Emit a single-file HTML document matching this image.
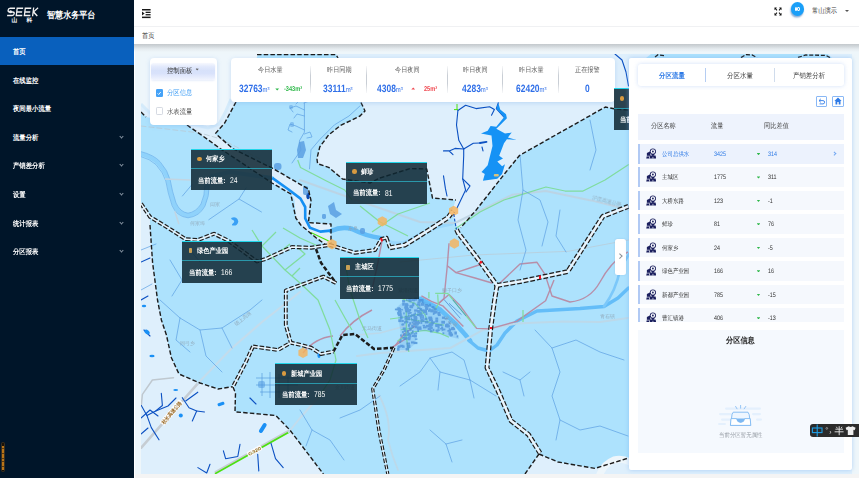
<!DOCTYPE html>
<html lang="zh">
<head>
<meta charset="utf-8">
<title>智慧水务平台</title>
<style>
*{box-sizing:border-box;margin:0;padding:0}
html,body{width:859px;height:478px;overflow:hidden}
body{text-rendering:geometricPrecision;position:relative;background:#f4f4f4;font-family:"Liberation Sans",sans-serif;font-size:6.5px;color:#333;line-height:1}
.abs{position:absolute}
/* sidebar */
#side{z-index:5;position:absolute;left:0;top:0;width:134px;height:478px;background:#001529;color:#fff}
#side .title{position:absolute;left:46.8px;top:11px;font-size:9.18px;font-weight:bold}
#side .mi{position:absolute;left:0;width:134px;height:28.2px;font-size:7.22px;color:#fff;white-space:nowrap;font-weight:bold}
#side .mi span{position:absolute;left:13px;top:11.15px}
#side .mi.on{background:#0960bd}
#side .mi i{position:absolute;left:120px;top:12.2px;width:3px;height:3px;border-right:.8px solid #8593a1;border-bottom:.8px solid #8593a1;transform:rotate(45deg)}
/* header */
#hdr{position:absolute;left:134px;top:0;width:725px;height:27px;background:#fff;border-bottom:1px solid #f0f1f3}
#crumb{position:absolute;left:134px;top:27px;width:725px;height:17px;background:#fff;box-shadow:none}
#crumb span{position:absolute;left:8px;top:5.95px;font-size:7.05px;color:#333;width:14.14px}
/* map */
#map{position:absolute;left:141px;top:54px;width:711px;height:419.5px;overflow:hidden;background:#ade2fd}
#topshade{position:absolute;left:134px;top:44px;width:725px;height:8px;background:linear-gradient(#c3c8cc 0,#d2d8dc 30%,#e5ebef 62%,rgba(238,245,249,0) 100%)}
/* cards */
.card{position:absolute;background:#fff;border-radius:4px;box-shadow:0 1px 4px rgba(120,170,230,.35)}
.tip{position:absolute;background:rgba(14,38,50,.86);border-top:1.9px solid #21d6ea;color:#fff;white-space:nowrap}
.tip .t1{position:absolute;left:15.4px;top:6.5px;font-size:7.07px;font-weight:bold}
.tip .dot{position:absolute;left:6.4px;top:6.9px;width:4.6px;height:4.6px;border-radius:50%;background:#d99a40}
.tip .sq{position:absolute;left:6.6px;top:6.8px;width:3.8px;height:5px;border-radius:.8px;background:#c9a055}
.tip .ln{position:absolute;left:0;right:0;top:18.3px;height:.6px;background:#2a97aa}
.tip .t2{position:absolute;left:6.6px;top:26.9px;font-size:7.27px;width:31.24px;font-weight:bold}
.tip .t3{position:absolute;left:38.6px;top:26.2px;font-size:8.4px;line-height:8.4px;transform:scaleX(.8);transform-origin:0 0}
.j{display:inline-block;text-align:justify;text-align-last:justify;white-space:nowrap;transform:scaleX(.877);transform-origin:0 0}
</style>
</head>
<body>
<div id="side">
  <svg class="abs" style="left:4.8px;top:5.6px" width="36" height="18" viewBox="0 0 36 18">
    <g fill="none" stroke="#f2f2f2" stroke-width="1.45" transform="translate(2.2 0) skewX(-7) scale(.9 1)">
      <path d="M9 2.2H3.6Q1.6 2.2 1.6 4V4.2Q1.6 5.9 3.6 5.9H6.8Q8.8 5.9 8.8 7.6V7.8Q8.8 9.5 6.8 9.5H1.2"/>
      <path d="M18 2.2H11.4V9.5H18M11.4 5.9H17.4"/>
      <path d="M27 2.2H20.4V9.5H27M20.4 5.9H26.4"/>
      <path d="M29.6 1.4V10.2M34.6 1.8L30 5.9L34.8 10"/>
    </g>
    <circle cx="5.6" cy="5.8" r="1.5" fill="#f2f2f2"/>
    <text x="6.4" y="15.9" font-size="5.8" font-weight="bold" fill="#fff" font-family="Liberation Sans, sans-serif">山</text>
    <text x="21.6" y="15.9" font-size="5.8" font-weight="bold" fill="#fff" font-family="Liberation Sans, sans-serif">科</text>
  </svg>
  <div class="title j" style="width:55.2px">智慧水务平台</div>
  <div class="mi on" style="top:36.9px"><span class="j" style="width:14.48px">首页</span></div>
  <div class="mi" style="top:65.5px"><span class="j" style="width:28.96px">在线监控</span></div>
  <div class="mi" style="top:94.1px"><span class="j" style="width:43.44px">夜间最小流量</span></div>
  <div class="mi" style="top:122.7px"><span class="j" style="width:28.96px">流量分析</span><i></i></div>
  <div class="mi" style="top:151.3px"><span class="j" style="width:36.26px">产销差分析</span><i></i></div>
  <div class="mi" style="top:179.9px"><span class="j" style="width:14.48px">设置</span><i></i></div>
  <div class="mi" style="top:208.5px"><span class="j" style="width:28.96px">统计报表</span><i></i></div>
  <div class="mi" style="top:237.1px"><span class="j" style="width:28.96px">分区报表</span><i></i></div>
  <div class="abs" style="left:1px;top:442px;width:4px;height:30px;border-radius:1.5px;background:#1a1208;border:.5px solid #3a3020"></div>
  <div class="abs" style="left:1.8px;top:446px;width:2.4px;height:24px;background:repeating-linear-gradient(#b87418 0 2px,#5a3a10 2px 2.6px)"></div>
</div>

<div id="hdr"></div>
<div id="crumb"><span class="j">首页</span></div>

<div class="abs" style="left:134px;top:44px;width:725px;height:429.5px;background:#eef6fa"></div>
<div class="abs" style="left:134px;top:44px;width:1.2px;height:434px;background:#fff"></div>
<div id="map">
<svg width="718" height="420" viewBox="141 54 718 420" style="position:absolute;left:0;top:0">
<rect x="141" y="54" width="718" height="420" fill="#ade2fd"/>
<path d="M141 54 L258 54 L250 75 L240 95 L235 103.5 L225 123 L215 134 L218 136 L233 149 L272 168 L308 189 L310 200 L308.5 222.5 L331 224 L331 243 L326 245 L316 238 L301 225 L296 218 L294.5 200 L291 194 L272 183 L220.5 149 L208 140 L187 125 L146 117 L141 112Z" fill="#deeffc"/>
<path d="M141 203 L150 220 L150 225 L152.6 263 L157.6 300.5 L161.4 320 L166.4 335 L171.4 357.7 L179 374 L200 383 L218 389 L233 386.6 L235.5 393 L235 411.8 L275.7 415.5 L289.5 429.6 L305.9 451 L323.4 474 L141 474Z" fill="#deeffc"/>
<path d="M336 54 L338 58 L350 80 L361 102.5 L365 111 L360 116 L340.3 125.6 L328.6 135 L319.8 146.9 L316.9 158.6 L317.6 163.7 L328.6 167.3 L342.5 179 L370 183 L380 178 L410 168.6 L426.7 169 L432.5 198 L455.6 200 L452 212 L456 226 L460.5 228 L475.7 210.6 L506 172 L519.5 155.5 L545 141 L605.4 107 L614 108.8 L628 110 L859 110 L859 54Z" fill="#deeffc"/>
<path d="M539 454 L558 462 L595 468.4 L628.5 458 L852 458 L852 474 L525 474Z" fill="#deeffc"/>
<!-- very light top-left -->
<path d="M141 54H258L250 75L240 95L235 103.5L230 100Q226 112 219 124L208 128L150 113L141 104Z" fill="#eef6fb"/>
<path d="M141 104L150 113L208 128L219 124Q226 112 231 99" fill="none" stroke="#cfe8fa" stroke-width="3" opacity=".8"/>
<path d="M651 54H828L832 58H646Z" fill="#ade2fd"/>
<path d="M655 57L658 54.8L664 55.6M741 57.6L746 54.6L752 55L757 57.6M798 57.4L806 55L826 55.4L830 57.6" fill="none" stroke="#1c1c1c" stroke-width="1.3" stroke-dasharray="4 1.8"/>
<!-- river bands (subtle) -->
<g fill="none" stroke-linecap="round" stroke-linejoin="round">
 <path d="M141 154Q152 157 158 163Q166 172 168 180Q170 192 174 204Q178 214 188 215.5Q198 214 203 205Q207 196 207 186L212 176L230 172L272 178" stroke="#8fd2fb" stroke-width="4"/>
 <path d="M141 151.6Q154 155 160 161.6Q168 170.6 170.2 180Q172 191 176 203Q180 212 188 213.2Q196 212 201 204Q205 195 204.8 186" stroke="#62a8e8" stroke-width=".6"/>
 <path d="M141 156.6Q150 159 156 164.6Q163.6 173 165.8 181Q167.8 193 172 205.4Q176.4 216.4 188 217.8Q199.6 216.4 205 206Q209.4 196 209.2 186" stroke="#62a8e8" stroke-width=".6"/>
 <path d="M165.5 179L190 180M175 212L178.7 223.4" stroke="#c2d5e2" stroke-width="1.6"/>
 <path d="M232 218.5Q236.5 217 237.5 221.5Q236.5 225.5 232.8 224.6Q236 222 234.6 220.2Z" fill="#3aa0f5" stroke="#3aa0f5" stroke-width="1.6"/>
 <path d="M331 231Q342 226 352 229Q366 236 380 238" stroke="#62bcf8" stroke-width="4.6"/>
 <path d="M386 240Q398 246 410 240Q428 228 452 224" stroke="#9ad7fb" stroke-width="3"/>
 <path d="M420.1 298.9L440.2 309.6L455.2 323.4L465.3 334.7L470.3 340.9" stroke="#62bdf8" stroke-width="4.6"/>
 <path d="M469 340.5L478 348L489 351L497 345L505 333L517 321L537 311L580 308.5L604 306.5L618 298L628.5 288" stroke="#64bdf8" stroke-width="3.4"/>
 <path d="M604 306.5Q616 290 620 270Q626 258 632 250" stroke="#7cc8fa" stroke-width="2.6"/>
  <path d="M600 474Q604 464 614 460Q622 458 630 462" stroke="#eef6fb" stroke-width="7"/>
</g>
<!-- gray roads / rail -->
<g fill="none" stroke-linecap="round" stroke-linejoin="round">
 <path d="M141.3 447.6L197.9 383.3" stroke="#c6cdd3" stroke-width="2.6"/>
 <path d="M197.9 383.3L232 348L262 322L300 292" stroke="#c3dcec" stroke-width="2.2"/>
 <path d="M141.3 405.5L142.4 394.4L152.4 380L173.5 377.8" stroke="#bfc8cf" stroke-width="1.5"/>
 <path d="M215.6 472L288.8 430.8" stroke="#c6cdd3" stroke-width="2.4"/>
 <path d="M215.6 473.4L288.8 432.2" stroke="#4be010" stroke-width="1.7"/>
 <path d="M288.8 432L300 418L318 398L335 380" stroke="#c3dcec" stroke-width="2"/>
 <path d="M141 126L200 133L221 139L262 160" stroke="#b9cbd6" stroke-width="1" stroke-dasharray="5 3" opacity=".8"/>
 <path d="M300 180L345 196L420 222L455 223L512 194.8L545.8 191L591 200.4L628.7 209.8" stroke="#bcd3e2" stroke-width="2" opacity=".9"/>
 
 <path d="M400 262L474 255L568.4 251.3L628.7 240" stroke="#b8cfdd" stroke-width="1" opacity=".9"/>
 <path d="M357 356L380 353L450.4 348L483.5 329.7L516.6 323.5L562 321.4L600 322L628 318" stroke="#bcd9ea" stroke-width="2"/>
 <path d="M357 335L380 333L420 322" stroke="#bcd9ea" stroke-width="1.6"/>
 <path d="M379 395Q392 420 388 440Q392 456 398 470" stroke="#bcd9ea" stroke-width="1.8"/>
</g>
<!-- pink roads -->
<g fill="none" stroke="#b98aa4" stroke-width="1.4" stroke-linejoin="round" opacity=".95">
 <path d="M421.4 295.8L431.4 301.4L442.7 305.8L452.7 315.8L463.4 326.5"/>
 <path d="M438.9 303.3L449 294.5L460.3 305.8L476.6 328.4L489.7 328.9L516.6 321.4L545.6 300.7L554 280"/>
 <path d="M392.5 347.2L406.3 338.4"/>
 <path d="M382 241L378 262L372 290"/>
 <path d="M449 243.3L447.3 265.7L456 272.6L481.8 264"/>
 <path d="M456 272.6L475 278L492 283"/>
 <path d="M447.3 265.7L444 298.5L438 304"/>
 <path d="M500 283L520 264L537 262.3L545 274.4L552 296L570 302Q590 300 600 282Q612 260 628 252"/>
 <path d="M303 353Q315 338 333 336"/>
 <path d="M340 336Q352 320 372 310"/>
 <path d="M395 346L404 334L415 326"/>
</g>
<!-- light green roads -->
<g fill="none" stroke="#80dc9e" stroke-width="1.25" stroke-linejoin="round">
 <path d="M297.7 160L300.5 167.5L326 180.7L344.7 190L352 200"/>
 <path d="M283 228L300 238L318 246"/>
 <path d="M252 230L262 246L285 270L300 283"/>
 <path d="M262 246L276 232M272 258L290 244M285 270L305 254L296 246M292 276L300 268"/>
 <path d="M360 206L380 222L408 236"/>
 <path d="M372 232L398 214L430 203"/>
 <path d="M455 229L480 212L504 200L546 187L565 191L583 191L605 180L628.7 164.6"/>
 <path d="M390 319L405 317L422.6 313.3"/>
 <path d="M406.3 310.8V337.2L408.8 352"/>
 <path d="M406.3 319L427.6 322L444 325.2"/>
 <path d="M401.3 329.6L412.6 328.4"/>
 <path d="M397.5 341L412.6 332L425 330.3L440.2 333.4L449 337.2"/>
 <path d="M402.5 299L415 303.3L425 314.6L427.6 322"/>
 <path d="M428.9 292V298.3"/>
 <path d="M435.2 293.3H447.7L457.8 305.8L470.3 320.9L475.3 327"/>
 <path d="M437.7 294.5L438.3 304.5L434.5 310.2"/>
 <path d="M523 310L523 322"/>
 <path d="M345 262L350 290L360 320L368 338"/>
 <path d="M335 300L345 318L352 330"/>
 <path d="M300 283L318 300L330 330"/>
 <path d="M330 330L336 360L330 380L318 398"/>
</g>
<!-- thin blue streams (mid blue) -->
<g fill="none" stroke="#5b9fe3" stroke-width=".7" stroke-linejoin="round" stroke-linecap="round">
 <path d="M304.4 103V132.2L299.3 141L301 150L292 163"/>
 <path d="M360 105.9L349 116L334.4 124.9L319.8 139.5L311 149.8L309.5 168.8"/>
 <path d="M304.4 110L296 106L290 108L293 112M304.4 116L297 114L294 118M304.4 130L296 126L290 124L288 130L292 132"/>
 <path d="M304.4 134L310 132L312 137L307 138"/>
 <path d="M304 103L312 100M296 104L300 100"/>
 <path d="M160 300L180 318L200 330L222 328L250 310L262 300"/>
 <path d="M180 318L176 340L190 352"/>
 <path d="M200 330L206 356L222 372"/>
 <path d="M222 328L232 348"/>
 <path d="M190 250L200 262M170 260L182 280L172 296"/>
 <path d="M182.4 196L191.8 184.8M208.8 219.7L239 199L261.5 212M239 199L246 188"/>
 <path d="M141 250L156 244M141 290L152 284"/>
 <path d="M520 155L523 190L518 220L526 250L520 270"/>
 <path d="M523 190L540 200L548 222L542 246"/>
 <path d="M560 210L556 236L566 252"/>
 <path d="M590 120L596 150L590 170"/>
 <path d="M430 358L440 372L470 380L496 396"/>
 <path d="M440 372L438 390M470 380L474 398"/>
 <path d="M400 386L420 372L430 358L452 352L464 360L470 380"/>
 <path d="M340 418L360 410L380 396"/>
 <path d="M430 430L446 444L452 462"/>
 <path d="M446 444L462 440"/>
 <path d="M535 330L552 348L560 372L552 396L560 420L556 440"/>
 <path d="M552 348L576 340L600 352L624 360"/>
 <path d="M560 420L580 430L600 426L628 436"/>
 <path d="M503 372L520 380L530 372M520 380L524 396"/>
 <path d="M300 410L312 430L330 440L344 460"/>
 <path d="M312 430L306 446"/>
</g>
<!-- dark blue streams -->
<g fill="none" stroke="#0b50c2" stroke-width="1.1" stroke-linejoin="round" stroke-linecap="round">
 <path d="M457.9 110.5L465.6 105.3L476 108.6L489.6 106.7L494.4 109.5L491.5 115.3"/>
 <path d="M457.9 110.5L456.5 125L458.8 140.3L463.7 149L473.3 143.2L480 143"/>
 <path d="M480 143L486.5 141.8" stroke-width="1.8"/>
 <path d="M463.7 149L455 148.4L449.2 150.9L443.5 150.9M449.2 151L453 154.7"/>
 <path d="M463.7 149L463.7 155.7L462.7 178.8L465.6 190L457 208"/>
 <path d="M462.7 178.8L470 186L466 192"/>
 <path d="M443.5 175.9L445.4 188.4L447 196"/>
 <path d="M482 147L483 150.9"/>
 <path d="M498.3 102.8L496.3 108.6L504 117.2"/>
 <path d="M615 54L622 60L626 72L628.5 86"/>
 <path d="M141.3 405.5L146.9 415.4L155.7 411L162.4 405.5L161.3 393.3"/>
 <path d="M146.9 415.4L151.3 427.6L159 439.8"/>
 <path d="M141 418L150 410L158 416"/>
 <path d="M155.7 411L168 406L176 398"/>
 <path d="M141 434L148 428"/>
 <path d="M182.3 397.7L189 407.7L196.7 411L192.3 421"/>
 <path d="M196.7 411L204.5 412M185.7 401L197.8 392.2"/>
 <path d="M223.4 450.9L225.6 458.7L237.8 456.5L240 444.3"/>
 <path d="M257.7 454.2L258.8 470.9"/>
 <path d="M271 443.2L275.5 458.7L283.2 467.6"/>
 <path d="M197.9 467.6L206.7 473L210 464.2"/>
 <path d="M141 262L150 258M141 300L148 296M144 330L150 336"/>
 <path d="M250 398L256 404"/>
</g>
<path d="M457 104V110M454 109.6H458" stroke="#4be010" stroke-width="1" fill="none"/>
<!-- lake -->
<path d="M498.3 102.8L500.2 109.5L506 114.3L506.9 118.2L501.2 124L496.3 128.8L505 133.6L511.7 132.6L507.9 137.4L516.5 139.9L506.9 139.3L504 143.2L499.2 155.7L503 158.6L497.3 161.5L502.1 166.3L505 164.3L502.1 174L497.3 178.8L482.9 180.7L484.8 174L481.5 172L487.7 165.3L492.5 146.1L491.5 135.5L481 133.6L487.7 130.7L490.6 125.9L496.3 126.8L504 117.2L496.3 108.6Z" fill="#1592f5"/>
<rect x="493.8" y="174" width="5" height="2.4" rx="1" fill="#d9c27e"/>
<!-- bright river in corridor -->
<path d="M272.2 177.9L288.2 189.2L300.5 198.6L305.2 207V218.4L310 227.8L320.3 231.6L330.6 230.6" fill="none" stroke="#1690f3" stroke-width="2.6" stroke-linejoin="round"/>
<ellipse cx="308" cy="195.8" rx="1.7" ry="3.4" fill="#0a49b0"/>
<path d="M310.8 232.5L328.7 241" stroke="#4be010" stroke-width="1.2" fill="none"/>
<!-- blobs -->
<g fill="#1a90f5">
 <rect x="217.5" y="402.5" width="7" height="3" rx="1.2" transform="rotate(-18 221 404)"/>
 <circle cx="180.8" cy="415.4" r="2"/>
 <rect x="260.8" y="422.5" width="4" height="11" rx="2" transform="rotate(32 262.8 428)"/>
 <ellipse cx="175.7" cy="390" rx="2.4" ry="1"/>
 <ellipse cx="147" cy="332" rx="3" ry="2" transform="rotate(40 147 332)"/>
 <ellipse cx="144" cy="306" rx="2.2" ry="1.2"/>
 <ellipse cx="152" cy="356" rx="2.6" ry="1.3"/>
 <ellipse cx="319" cy="355" rx="1.6" ry="3"/>
</g>
<!-- town clusters -->
<g fill="#5a9fe2" opacity=".85">
 <rect x="274" y="163" width="7.5" height="7" rx="3"/>
 <path d="M299 142L304 141L306 150L303 158L298 158L297 150Z"/>
 <rect x="289" y="105" width="4" height="4" rx="1.5" opacity=".6"/><rect x="290" y="122" width="4" height="5" rx="1.5" opacity=".6"/>
 <rect x="303" y="186" width="5" height="9" rx="2"/>
 <path d="M396 308 L405 300 L418.9 298.5 L431.4 304.8 L442.7 314.8 L455.2 328.6 L459 339 L446.5 336 L440.2 331 L417 331 L416 343 L408 350 L398 350 L401 336 L399 322Z" opacity=".3"/>
 <g fill="#4a8fd8" opacity=".92"><rect x="423.0" y="326.2" width="3.6" height="2.2"/><rect x="427.6" y="327.7" width="1.8" height="2.3"/><rect x="399.6" y="311.6" width="1.6" height="2.9"/><rect x="437.6" y="329.8" width="1.8" height="1.4"/><rect x="406.2" y="308.4" width="1.5" height="2.2"/><rect x="423.2" y="310.0" width="3.8" height="3.2"/><rect x="450.1" y="334.7" width="2.2" height="1.8"/><rect x="412.0" y="298.9" width="3.2" height="2.1"/><rect x="398.1" y="313.2" width="3.7" height="2.8"/><rect x="401.2" y="309.0" width="1.6" height="1.5"/><rect x="431.1" y="319.7" width="1.9" height="2.7"/><rect x="402.1" y="331.0" width="1.7" height="2.2"/><rect x="406.6" y="309.7" width="3.7" height="2.8"/><rect x="406.6" y="316.8" width="3.5" height="2.6"/><rect x="406.9" y="309.5" width="3.3" height="2.0"/><rect x="413.3" y="298.9" width="1.6" height="2.4"/><rect x="409.4" y="328.6" width="2.3" height="2.2"/><rect x="404.6" y="303.2" width="3.6" height="2.9"/><rect x="409.4" y="305.1" width="3.2" height="3.1"/><rect x="405.6" y="348.0" width="3.5" height="2.5"/><rect x="421.9" y="300.2" width="1.5" height="3.1"/><rect x="409.2" y="334.0" width="2.0" height="2.9"/><rect x="433.6" y="311.1" width="1.8" height="2.7"/><rect x="397.3" y="307.3" width="2.7" height="2.9"/><rect x="434.0" y="310.8" width="3.6" height="1.8"/><rect x="404.6" y="315.8" width="2.8" height="1.6"/><rect x="440.1" y="328.0" width="1.7" height="1.5"/><rect x="451.3" y="327.0" width="2.9" height="2.1"/><rect x="432.8" y="328.8" width="1.6" height="2.6"/><rect x="441.9" y="316.5" width="3.2" height="2.4"/><rect x="425.2" y="307.7" width="3.1" height="2.3"/><rect x="413.5" y="333.1" width="1.9" height="1.7"/><rect x="454.4" y="331.5" width="2.5" height="3.0"/><rect x="415.3" y="332.2" width="1.9" height="2.2"/><rect x="432.8" y="312.6" width="1.7" height="2.3"/><rect x="411.6" y="304.5" width="2.5" height="1.9"/><rect x="407.1" y="318.0" width="2.9" height="2.3"/><rect x="413.6" y="341.9" width="3.8" height="2.2"/><rect x="441.1" y="326.5" width="2.1" height="2.8"/><rect x="435.3" y="319.7" width="2.9" height="2.6"/><rect x="425.6" y="304.9" width="1.4" height="2.2"/><rect x="411.0" y="314.2" width="3.1" height="2.3"/><rect x="456.6" y="335.3" width="1.7" height="2.2"/><rect x="417.9" y="326.4" width="3.5" height="2.8"/><rect x="406.6" y="344.8" width="3.8" height="3.2"/><rect x="398.3" y="319.3" width="2.7" height="2.8"/><rect x="402.2" y="303.0" width="2.6" height="2.7"/><rect x="449.3" y="333.5" width="3.7" height="2.3"/><rect x="408.0" y="324.1" width="2.1" height="2.7"/><rect x="435.7" y="324.1" width="3.4" height="2.4"/><rect x="413.5" y="315.8" width="3.4" height="3.0"/><rect x="406.3" y="342.5" width="3.7" height="2.3"/><rect x="431.6" y="306.1" width="2.7" height="2.3"/><rect x="430.7" y="322.7" width="3.1" height="1.5"/><rect x="428.8" y="317.6" width="3.7" height="3.1"/><rect x="411.5" y="321.4" width="1.7" height="2.2"/><rect x="425.5" y="312.5" width="1.9" height="2.5"/><rect x="405.7" y="307.7" width="3.0" height="2.0"/><rect x="417.3" y="329.3" width="1.7" height="2.7"/><rect x="401.3" y="323.7" width="2.0" height="1.8"/><rect x="428.9" y="319.4" width="2.3" height="2.1"/><rect x="429.1" y="303.7" width="1.9" height="2.5"/><rect x="435.7" y="324.4" width="3.4" height="2.5"/><rect x="409.3" y="335.9" width="2.0" height="1.6"/><rect x="406.0" y="299.2" width="1.7" height="1.5"/><rect x="430.1" y="324.0" width="2.8" height="1.7"/><rect x="404.8" y="305.8" width="3.4" height="3.2"/><rect x="397.0" y="347.9" width="2.5" height="2.8"/><rect x="414.9" y="321.1" width="2.6" height="2.2"/><rect x="404.7" y="320.4" width="3.2" height="2.1"/><rect x="406.0" y="304.5" width="2.6" height="1.4"/><rect x="435.4" y="317.5" width="2.8" height="2.3"/><rect x="444.5" y="318.0" width="3.1" height="1.5"/><rect x="416.5" y="321.2" width="1.4" height="2.0"/><rect x="436.5" y="329.4" width="2.0" height="3.1"/><rect x="437.8" y="313.7" width="3.0" height="2.4"/><rect x="428.3" y="316.5" width="3.8" height="2.6"/><rect x="410.7" y="317.6" width="1.5" height="1.8"/><rect x="418.5" y="300.0" width="2.0" height="3.0"/><rect x="429.5" y="323.2" width="3.7" height="2.4"/><rect x="404.0" y="321.3" width="1.8" height="2.3"/><rect x="428.7" y="328.5" width="2.3" height="1.9"/><rect x="437.5" y="326.1" width="2.1" height="2.7"/><rect x="403.5" y="336.8" width="2.3" height="3.0"/><rect x="397.8" y="345.6" width="2.4" height="2.3"/><rect x="441.3" y="320.8" width="3.7" height="2.9"/><rect x="435.5" y="320.8" width="1.9" height="1.5"/><rect x="423.6" y="309.6" width="2.8" height="2.2"/><rect x="445.0" y="324.2" width="3.8" height="3.1"/><rect x="400.1" y="344.7" width="3.3" height="2.5"/><rect x="416.9" y="310.0" width="3.0" height="2.4"/><rect x="411.0" y="319.0" width="2.9" height="1.6"/><rect x="418.4" y="321.8" width="1.9" height="2.0"/><rect x="447.4" y="330.0" width="3.2" height="1.8"/><rect x="421.2" y="309.4" width="3.3" height="2.1"/><rect x="414.5" y="325.2" width="3.2" height="3.1"/><rect x="422.3" y="315.2" width="1.6" height="3.0"/><rect x="430.8" y="322.2" width="3.0" height="1.9"/><rect x="407.7" y="332.1" width="1.6" height="1.9"/><rect x="412.1" y="302.7" width="2.3" height="2.7"/><rect x="417.4" y="301.4" width="3.1" height="2.4"/><rect x="413.8" y="316.9" width="3.6" height="3.0"/><rect x="409.7" y="315.2" width="2.3" height="2.1"/><rect x="420.0" y="316.5" width="1.9" height="2.4"/><rect x="446.5" y="325.1" width="3.4" height="2.4"/><rect x="404.3" y="337.5" width="3.5" height="1.9"/><rect x="429.1" y="326.5" width="3.7" height="2.6"/><rect x="402.3" y="336.8" width="3.0" height="1.8"/><rect x="407.7" y="337.5" width="2.7" height="2.8"/><rect x="419.0" y="313.6" width="3.7" height="2.6"/><rect x="426.0" y="324.8" width="3.1" height="2.7"/><rect x="448.5" y="331.9" width="3.4" height="2.9"/><rect x="421.0" y="302.6" width="3.2" height="3.2"/><rect x="418.6" y="304.3" width="1.9" height="2.2"/><rect x="397.2" y="312.0" width="1.7" height="2.6"/><rect x="405.6" y="306.8" width="2.0" height="2.7"/><rect x="433.5" y="307.6" width="1.8" height="1.9"/><rect x="404.7" y="337.2" width="2.1" height="2.4"/><rect x="448.6" y="321.4" width="2.0" height="3.0"/><rect x="426.1" y="306.8" width="1.5" height="3.1"/><rect x="428.8" y="323.3" width="2.1" height="3.2"/><rect x="441.6" y="329.1" width="1.8" height="1.7"/><rect x="414.1" y="309.4" width="3.5" height="2.3"/><rect x="411.2" y="324.5" width="1.8" height="2.8"/><rect x="398.0" y="310.3" width="3.1" height="1.6"/><rect x="424.8" y="321.0" width="3.7" height="2.5"/><rect x="430.1" y="324.0" width="1.8" height="2.9"/><rect x="414.4" y="312.4" width="1.6" height="2.0"/><rect x="399.9" y="316.5" width="2.5" height="3.1"/><rect x="449.7" y="331.6" width="1.4" height="2.1"/><rect x="431.6" y="320.1" width="1.4" height="3.2"/><rect x="434.7" y="311.1" width="2.3" height="2.4"/><rect x="413.1" y="313.6" width="2.3" height="2.6"/><rect x="409.9" y="306.2" width="3.2" height="2.0"/><rect x="402.1" y="299.9" width="3.0" height="2.7"/><rect x="404.5" y="317.3" width="3.4" height="2.5"/><rect x="399.2" y="307.9" width="1.8" height="1.6"/><rect x="419.9" y="299.0" width="3.6" height="2.2"/><rect x="419.0" y="313.8" width="2.4" height="1.4"/><rect x="438.2" y="329.1" width="1.4" height="2.0"/><rect x="399.9" y="315.7" width="2.6" height="2.8"/><rect x="449.2" y="328.9" width="1.8" height="2.8"/><rect x="417.1" y="322.7" width="1.7" height="2.7"/><rect x="406.0" y="348.0" width="2.9" height="1.8"/><rect x="398.3" y="308.4" width="2.8" height="2.7"/><rect x="417.7" y="320.4" width="1.7" height="3.2"/><rect x="401.9" y="345.4" width="2.7" height="2.4"/><rect x="430.3" y="309.2" width="3.6" height="3.2"/><rect x="448.7" y="328.2" width="1.7" height="2.9"/><rect x="408.7" y="327.3" width="3.4" height="1.7"/><rect x="437.3" y="311.9" width="3.0" height="2.7"/><rect x="418.3" y="328.4" width="3.3" height="1.4"/><rect x="406.7" y="321.2" width="1.7" height="2.1"/><rect x="428.0" y="309.8" width="2.8" height="2.0"/><rect x="424.5" y="317.7" width="2.9" height="2.6"/><rect x="420.4" y="318.8" width="2.8" height="3.0"/><rect x="428.5" y="323.9" width="2.4" height="3.0"/><rect x="414.2" y="297.6" width="3.1" height="3.0"/><rect x="442.2" y="328.5" width="3.2" height="1.9"/><rect x="401.2" y="320.0" width="2.6" height="2.1"/><rect x="428.7" y="308.3" width="2.1" height="2.1"/><rect x="408.2" y="298.3" width="3.6" height="3.1"/><rect x="407.7" y="336.3" width="2.8" height="3.0"/><rect x="399.9" y="339.2" width="1.7" height="2.4"/><rect x="409.5" y="312.0" width="2.2" height="1.5"/><rect x="419.6" y="315.2" width="2.8" height="1.5"/><rect x="413.1" y="322.3" width="3.6" height="3.2"/><rect x="425.1" y="306.0" width="2.1" height="3.1"/><rect x="424.4" y="304.0" width="3.5" height="3.2"/><rect x="406.8" y="329.9" width="1.9" height="3.0"/><rect x="407.6" y="312.3" width="3.1" height="1.8"/><rect x="404.8" y="307.8" width="3.0" height="2.8"/><rect x="453.2" y="328.1" width="1.9" height="1.9"/><rect x="412.0" y="330.3" width="1.6" height="3.2"/><rect x="422.6" y="324.8" width="2.7" height="1.5"/><rect x="433.8" y="310.5" width="2.0" height="2.8"/><rect x="398.3" y="311.0" width="3.2" height="1.8"/><rect x="412.1" y="325.2" width="1.8" height="3.0"/><rect x="426.6" y="304.8" width="2.7" height="2.6"/><rect x="445.9" y="323.5" width="2.6" height="2.9"/><rect x="438.7" y="324.3" width="3.7" height="1.7"/><rect x="434.1" y="307.8" width="2.5" height="2.8"/><rect x="409.1" y="322.2" width="1.9" height="2.4"/><rect x="405.5" y="303.4" width="1.4" height="2.3"/><rect x="422.5" y="319.3" width="2.0" height="2.8"/><rect x="397.5" y="345.6" width="2.8" height="2.4"/><rect x="403.2" y="312.4" width="1.5" height="2.0"/><rect x="435.2" y="324.2" width="2.0" height="2.5"/><rect x="399.1" y="341.0" width="1.8" height="1.9"/><rect x="403.2" y="333.3" width="3.4" height="2.8"/><rect x="416.9" y="307.4" width="3.7" height="1.5"/><rect x="394.9" y="308.6" width="3.5" height="1.7"/><rect x="419.5" y="311.9" width="2.4" height="1.5"/><rect x="408.3" y="309.3" width="2.7" height="1.8"/><rect x="416.9" y="313.6" width="3.8" height="2.5"/><rect x="451.0" y="328.0" width="3.5" height="2.2"/><rect x="407.7" y="314.3" width="1.8" height="2.4"/><rect x="404.2" y="306.3" width="1.9" height="2.2"/><rect x="413.1" y="319.7" width="3.8" height="2.6"/><rect x="418.5" y="299.0" width="3.1" height="2.1"/><rect x="405.2" y="309.2" width="2.3" height="3.1"/><rect x="416.7" y="303.6" width="3.6" height="2.0"/><rect x="415.1" y="316.0" width="1.6" height="3.0"/><rect x="414.8" y="338.4" width="2.6" height="1.5"/><rect x="420.0" y="308.5" width="1.5" height="1.7"/><rect x="413.9" y="318.9" width="2.7" height="1.6"/><rect x="442.5" y="332.4" width="1.8" height="1.8"/><rect x="411.9" y="334.9" width="2.4" height="2.1"/><rect x="412.9" y="314.6" width="1.9" height="1.5"/><rect x="407.2" y="333.0" width="3.0" height="3.1"/><rect x="422.3" y="316.9" width="1.5" height="2.1"/><rect x="415.3" y="323.0" width="2.1" height="1.7"/><rect x="420.5" y="321.3" width="1.8" height="2.6"/><rect x="409.2" y="300.1" width="2.2" height="2.2"/><rect x="402.7" y="327.4" width="3.1" height="2.4"/><rect x="419.8" y="315.3" width="1.6" height="2.1"/><rect x="432.7" y="321.3" width="2.2" height="1.9"/><rect x="410.9" y="332.3" width="1.8" height="2.2"/><rect x="416.8" y="326.9" width="3.7" height="2.8"/><rect x="435.5" y="329.7" width="2.4" height="2.1"/><rect x="411.0" y="341.4" width="3.5" height="2.1"/><rect x="402.2" y="323.4" width="2.1" height="2.0"/><rect x="405.6" y="307.9" width="3.0" height="1.8"/><rect x="419.5" y="308.1" width="2.6" height="2.6"/><rect x="429.9" y="329.5" width="2.7" height="2.9"/><rect x="413.8" y="334.8" width="3.1" height="2.6"/><rect x="403.6" y="329.6" width="2.6" height="2.4"/><rect x="417.5" y="310.8" width="3.2" height="2.4"/><rect x="409.0" y="309.1" width="2.2" height="1.7"/><rect x="400.1" y="334.4" width="1.7" height="2.2"/></g>
 <path d="M328 206L334 202L336 210L342 214L336 218L330 214Z"/>
 <rect x="322" y="214" width="4" height="5" rx="1.4"/>
 <rect x="360" y="228" width="5" height="6" rx="2"/>
 <rect x="258" y="381" width="7" height="7" rx="2" opacity=".7"/>
</g>
<g fill="none" stroke="#3a78c8" stroke-width=".7" opacity=".9"><path d="M444 299.5L460.3 318.3M449 303.3L461.5 314.6M453 300L466 316"/></g>
<g fill="none" stroke="#4f97dd" stroke-width=".8" opacity=".8">
 <path d="M256 378H300M256 385H298M260 392H296M262 373V396M270 372V398M279 374V398M288 376V396"/>
</g>

<g font-family="Liberation Sans, sans-serif" font-weight="bold">
 <g transform="translate(171.5 412.5) rotate(-50)"><rect x="-15" y="-3" width="30" height="6" rx="1" fill="#fff" opacity=".92"/><text x="-14" y="2" font-size="5.2" fill="#9a6a26" textLength="28" lengthAdjust="spacingAndGlyphs">杭长高速公路</text></g>
 <g transform="translate(254.5 451) rotate(-29)"><rect x="-8" y="-2.6" width="16" height="5.2" rx="1" fill="#fff" opacity=".9"/><text x="-7" y="1.8" font-size="4.6" fill="#9a6a26" textLength="14" lengthAdjust="spacingAndGlyphs">G320</text></g>
 <g fill="#8fa3b3" font-weight="normal" font-size="5" opacity=".85">
  <text x="210" y="206">闫家</text><text x="190" y="224.5">何家埠</text><text x="348" y="230">东皋</text><text x="398" y="292">紫港街道</text><text x="442" y="292">狮子口乡</text><text x="592" y="199" transform="rotate(14 592 199)">沪昆高速公路</text><text x="600" y="318">青石镇</text><text x="180" y="345">同弓乡</text><text x="362" y="330">天马街道</text><text x="335" y="389">金川街道</text>
  <text x="236" y="326" transform="rotate(-38 236 326)">德上高速</text><text x="444" y="318" transform="rotate(40 444 318)">常山港</text>
 </g>
</g>

<g fill="none" stroke="#1c1c1c" stroke-linejoin="round">
<path d="M257 54.6 L336 54.6 L338 58" stroke-width="1.4" stroke-dasharray="4.5 2.2"/>
<path d="M236 102 L235.2 103.4 L224.7 123 L215 134" stroke-width="1.4" stroke-dasharray="4.5 2.2"/>
<path d="M141 112 L146 117" stroke-width="1.4" stroke-dasharray="4.5 2.2"/>
<path d="M187 125 L208 139.7 L220.5 148.8 L272 183 L290.8 194 L295.8 218 L300.8 225 L316 237.7 L326 245" stroke-width="1.4" stroke-dasharray="4.5 2.2"/>
<path d="M217.7 135.5 L233 148.8 L272 168 L308.4 189 L311 200.5 L308.4 222.6 L331 224 L331 243" stroke-width="1.4" stroke-dasharray="4.5 2.2"/>
<path d="M361 102.5 L365 111 L360 116 L340.3 125.6 L328.6 135 L319.8 146.9 L316.9 158.6 L317.6 163.7 L328.6 167.3 L342.5 179 L370 183 L380 178 L410 168.6 L426.7 169 L432.5 198 L456 200" stroke-width="1.4" stroke-dasharray="4.5 2.2"/>
<path d="M628 110 L614 108.8 L605.4 107 L545 141 L519.5 155.5 L506 172 L475.7 210.6 L460.7 227.7" stroke-width="1.4" stroke-dasharray="4.5 2.2"/>
<path d="M150 225 L152.6 262.8 L157.6 300.5 L161.4 320 L166.4 335 L171.4 357.7 L179 374 L200 383 L218 389 L233 386.6" stroke-width="1.4" stroke-dasharray="4.5 2.2"/>
<path d="M233 387 L235.5 393 L235 411.8 L275.7 415.5 L289.5 429.6 L305.9 451 L323.4 474" stroke-width="1.4" stroke-dasharray="4.5 2.2"/>
<path d="M539 454 L525 474" stroke-width="1.4" stroke-dasharray="4.5 2.2"/>
<path d="M539 454 L558 462 L595 468.4 L628.5 458" stroke-width="1.4" stroke-dasharray="4.5 2.2"/>
<path d="M316 249 L321 262.8 L336 283" stroke-width="2.5" stroke-dasharray="4.5 2"/>
<path d="M333.5 351.5 L341 337.6 L342.6 335 L355 334 L374 349 L394 347.7" stroke-width="2.5" stroke-dasharray="4.5 2"/>
<path d="M141 203.5 L150 216.8 L167.7 227.6 L186 239.3 L198 240 L214 233.7 L228 240.5 L257 261.5 L265.7 259 L292 247 L311 247.7 L329.7 245 L335 246.5 L355 252.8 L375 250 L381.5 239 L386.5 237.7 L390 247.8" stroke-width="3.9" stroke-dasharray="4.6 1.9"/>
<path d="M336 283 L323.4 276.6 L285.8 290.5 L285.8 325 L290.8 342.7" stroke-width="3.9" stroke-dasharray="4.6 1.9"/>
<path d="M253 346.4 L278 350 L290.8 342.7 L301 345 L311 347.7 L321 354 L333.5 351.5" stroke-width="3.9" stroke-dasharray="4.6 1.9"/>
<path d="M253 346.4 L245.5 362.8 L233 386.6" stroke-width="3.9" stroke-dasharray="4.6 1.9"/>
<path d="M390 247.8 L405 245 L430.5 229 L448 217.6 L453 211" stroke-width="4.9" stroke-dasharray="4.8 1.9"/>
<path d="M456.5 229.5 L458 232.7 L480.8 262.8 L497 285.5" stroke-width="4.9" stroke-dasharray="4.8 1.9"/>
<path d="M497 285.5 L520 281.6 L567.7 271.6 L602.9 216.3 L628.5 206.3" stroke-width="4.9" stroke-dasharray="4.8 1.9"/>
<path d="M497 285.5 L494.6 300 L490.8 327.6 L487 367.8 L498 390.7 L511 420.8 L528.5 434.6 L540 453" stroke-width="4.9" stroke-dasharray="4.8 1.9"/>
<path d="M394 347.7 L384 370 L372.7 389 L379 431 L387.8 474" stroke-width="3.2" stroke-dasharray="4.5 2"/>
</g>
<g fill="none" stroke="#e9f4fc" stroke-linejoin="round">
<path d="M141 203.5 L150 216.8 L167.7 227.6 L186 239.3 L198 240 L214 233.7 L228 240.5 L257 261.5 L265.7 259 L292 247 L311 247.7 L329.7 245 L335 246.5 L355 252.8 L375 250 L381.5 239 L386.5 237.7 L390 247.8" stroke-width="1.5"/>
<path d="M336 283 L323.4 276.6 L285.8 290.5 L285.8 325 L290.8 342.7" stroke-width="1.5"/>
<path d="M253 346.4 L278 350 L290.8 342.7 L301 345 L311 347.7 L321 354 L333.5 351.5" stroke-width="1.5"/>
<path d="M253 346.4 L245.5 362.8 L233 386.6" stroke-width="1.5"/>
<path d="M390 247.8 L405 245 L430.5 229 L448 217.6 L453 211" stroke-width="2.5"/>
<path d="M456.5 229.5 L458 232.7 L480.8 262.8 L497 285.5" stroke-width="2.5"/>
<path d="M497 285.5 L520 281.6 L567.7 271.6 L602.9 216.3 L628.5 206.3" stroke-width="2.5"/>
<path d="M497 285.5 L494.6 300 L490.8 327.6 L487 367.8 L498 390.7 L511 420.8 L528.5 434.6 L540 453" stroke-width="2.5"/>
<path d="M394 347.7 L384 370 L372.7 389 L379 431 L387.8 474" stroke-width="1"/>
</g>
<g fill="#f7b25a" opacity=".82">
 <path d="M453.6 205.70000000000002L458.20000000000005 208.3V213.5L453.6 216.1L449.0 213.5V208.3Z"/>
 <path d="M382.3 216.20000000000002L386.90000000000003 218.8V224.0L382.3 226.6L377.7 224.0V218.8Z"/>
 <path d="M454.4 238.3L459.0 240.9V246.1L454.4 248.7L449.79999999999995 246.1V240.9Z"/>
 <path d="M332 239.0L336.6 241.6V246.79999999999998L332 249.39999999999998L327.4 246.79999999999998V241.6Z"/>
 <path d="M303 347.6L307.6 350.2V355.40000000000003L303 358.0L298.4 355.40000000000003V350.2Z"/>
</g>
<path d="M453.8 214L455 222L456.5 229.5" fill="none" stroke="#0b50c2" stroke-width="1.1" stroke-dasharray="3 1.6"/>
<g fill="#f01020"><rect x="380.6" y="238" width="2" height="3.4" transform="rotate(-20 381.6 239.7)"/><rect x="479.6" y="261" width="2.4" height="2.6" transform="rotate(35 480.8 262.3)"/><rect x="539" y="275.4" width="2" height="3.6"/><rect x="490" y="327" width="2" height="2"/></g>

</svg>
</div>
<div id="topshade"></div>

<!-- header icons -->
<svg class="abs" style="left:141.5px;top:8.5px" width="9" height="10" viewBox="0 0 9 10"><g fill="#1a1a1a"><rect x="0" y="0" width="8.6" height="1.5"/><rect x="3.6" y="2.7" width="5" height="1.3"/><rect x="3.6" y="5.1" width="5" height="1.3"/><rect x="0" y="7.6" width="8.6" height="1.5"/><path d="M0 2.6L2.6 4.55L0 6.5Z"/></g></svg>
<svg class="abs" style="left:774.2px;top:7px" width="8" height="9" viewBox="0 0 10 10" preserveAspectRatio="none"><g fill="#111"><path d="M.6 .6H3.6L2.6 1.6L4.2 3.2L3.2 4.2L1.6 2.6L.6 3.6Z"/><path d="M9.4 .6V3.6L8.4 2.6L6.8 4.2L5.8 3.2L7.4 1.6L6.4 .6Z"/><path d="M.6 9.4V6.4L1.6 7.4L3.2 5.8L4.2 6.8L2.6 8.4L3.6 9.4Z"/><path d="M9.4 9.4H6.4L7.4 8.4L5.8 6.8L6.8 5.8L8.4 7.4L9.4 6.4Z"/></g></svg>
<div class="abs" style="left:790.6px;top:2.4px;width:13.4px;height:13.8px;border-radius:50%;background:#1a9ff8;box-shadow:-.6px 1.6px 1.6px rgba(60,120,190,.6)"></div>
<div class="abs" style="left:794.6px;top:7.2px;width:2.6px;height:4.2px;border-radius:50%;border:.7px solid #fff"></div><div class="abs" style="left:797.4px;top:7.2px;width:2.6px;height:4.2px;border-radius:50%;border:.7px solid #fff"></div>
<div class="abs j" style="left:812px;top:8.2px;font-size:7.1px;color:#3a3a3a;width:28.5px">常山演示</div>
<div class="abs" style="left:845px;top:9.6px;width:0;height:0;border-left:2px solid transparent;border-right:2px solid transparent;border-top:2.6px solid #555"></div>

<!-- control panel -->
<div class="card" style="left:149.6px;top:58px;width:67px;height:67px"></div>
<div class="abs" style="left:151.4px;top:63px;width:63.4px;height:17px;border-radius:2.5px;background:linear-gradient(#f6f8fe 0%,#e2e9fc 22%,#d7e1fa 45%,#d9e2fb 62%,#f1f4fe 100%);box-shadow:0 1px 2px rgba(170,190,240,.28)"></div>
<div class="abs j" style="left:166.6px;top:67.15px;font-size:7.22px;color:#333;width:28.96px">控制面板</div>
<div class="abs" style="left:195.8px;top:68.2px;width:2.4px;height:2.4px;border-right:.6px solid #666;border-bottom:.6px solid #666;transform:rotate(45deg)"></div>
<div class="abs" style="left:156px;top:88.9px;width:6.7px;height:7.9px;border-radius:1.3px;background:#45a2f7"></div>
<svg class="abs" style="left:157.2px;top:90.8px" width="4.4" height="4.4" viewBox="0 0 4.4 4.4"><path d="M.6 2.4L1.7 3.5L3.8 1" fill="none" stroke="#fff" stroke-width=".9"/></svg>
<div class="abs j" style="left:167px;top:89.05px;font-size:7.22px;color:#409ef5;width:28.96px">分区信息</div>
<div class="abs" style="left:156px;top:107.3px;width:6.7px;height:7.6px;border-radius:1.2px;background:#fff;border:.7px solid #d6dae2"></div>
<div class="abs j" style="left:167px;top:108.15px;font-size:7.22px;color:#555;width:28.96px">水表流量</div>

<!-- stats card -->
<div class="card" style="left:230.5px;top:58px;width:384.5px;height:44px"></div>
<style>
.sl{position:absolute;top:67.3px;font-size:6.99px;color:#555;width:28.05px;margin-left:-12.3px}
.sv{position:absolute;top:83.8px;font-size:10.6px;line-height:10.6px;color:#2f6fe8;font-weight:bold;white-space:nowrap;transform:scaleX(.8);transform-origin:0 0}
.sv small{font-size:7.4px;font-weight:normal}
.sd{position:absolute;top:66px;width:.9px;height:27px;background:linear-gradient(rgba(200,205,212,.15),#c9ced5 35%,#c9ced5 65%,rgba(200,205,212,.15))}
.sx{position:absolute;top:85.9px;font-size:7px;line-height:7px;white-space:nowrap;font-weight:bold;transform:scaleX(.8);transform-origin:0 0}
</style>
<div class="sl j" style="left:270.7px">今日水量</div>
<div class="sl j" style="left:339px">昨日同期</div>
<div class="sl j" style="left:407.2px">今日夜间</div>
<div class="sl j" style="left:475.5px">昨日夜间</div>
<div class="sl j" style="left:531.6px">昨日水量</div>
<div class="sl j" style="left:587px">正在报警</div>
<div class="sv" style="left:239.4px">32763<small>m³</small></div>
<div class="sv" style="left:322.8px">33111<small>m³</small></div>
<div class="sv" style="left:377px">4308<small>m³</small></div>
<div class="sv" style="left:461.7px">4283<small>m³</small></div>
<div class="sv" style="left:515.5px">62420<small>m³</small></div>
<div class="sv" style="left:585px">0</div>
<div class="sd" style="left:310.2px"></div>
<div class="sd" style="left:366.2px"></div>
<div class="sd" style="left:447.2px"></div>
<div class="sd" style="left:502.4px"></div>
<div class="sd" style="left:558px"></div>
<svg class="abs" style="left:275px;top:87.6px" width="5" height="3" viewBox="0 0 5 3"><path d="M.3 .4H4.1L2.2 2.6Z" fill="#2fb84a"/></svg>
<div class="sx" style="left:283.7px;color:#2fb84a">-343m³</div>
<svg class="abs" style="left:411.4px;top:87.4px" width="5" height="3" viewBox="0 0 5 3"><path d="M.3 2.6H4.1L2.2 .4Z" fill="#f0464e"/></svg>
<div class="sx" style="left:423.5px;color:#f0464e">25m³</div>

<!-- tooltips -->
<div class="tip" style="left:191px;top:148.9px;width:80.8px;height:41.2px"><i class="dot"></i><span class="t1 j" style="width:21.32px">何家乡</span><i class="ln"></i><span class="t2 j">当前流量:</span><span class="t3">24</span></div>
<div class="tip" style="left:346px;top:161.5px;width:80.6px;height:42px"><i class="dot"></i><span class="t1 j" style="width:14.14px">鲜珍</span><i class="ln"></i><span class="t2 j">当前流量:</span><span class="t3">81</span></div>
<div class="tip" style="left:182px;top:240.7px;width:80px;height:42px"><i class="sq"></i><span class="t1 j" style="width:35.46px">绿色产业园</span><i class="ln"></i><span class="t2 j">当前流量:</span><span class="t3">166</span></div>
<div class="tip" style="left:339.5px;top:256.9px;width:79.6px;height:41.8px"><i class="sq"></i><span class="t1 j" style="width:21.32px">主城区</span><i class="ln"></i><span class="t2 j">当前流量:</span><span class="t3">1775</span></div>
<div class="tip" style="left:275.2px;top:363.3px;width:81.4px;height:42px"><i class="dot"></i><span class="t1 j" style="width:35.46px">新城产业园</span><i class="ln"></i><span class="t2 j">当前流量:</span><span class="t3">785</span></div>
<div class="tip" style="left:613.5px;top:88.3px;width:81px;height:42px"><i class="dot"></i><i class="ln"></i><span class="t2 j">当前流量:</span><span class="t3">0</span></div>

<!-- collapse handle -->
<div class="abs" style="left:615px;top:239px;width:11px;height:36px;border-radius:2.5px;background:#fff;box-shadow:0 0 2px rgba(90,140,200,.3)"></div>
<div class="abs" style="left:618.2px;top:254.4px;width:3.6px;height:3.6px;border-right:.8px solid #8a8f96;border-top:.8px solid #8a8f96;transform:rotate(45deg)"></div>

<!--PANEL-->
<!-- right panel -->
<div class="abs" style="left:628.6px;top:57.5px;width:223.4px;height:412.5px;background:#fff;border-radius:2px;box-shadow:0 0 4px rgba(120,175,240,.55)"></div>
<div class="abs" style="left:638px;top:64px;width:205.6px;height:22px;background:#fff;border-radius:3px;box-shadow:0 0 4px rgba(150,185,240,.45)"></div>
<style>
.tb{position:absolute;top:72.2px;font-size:7.32px;color:#444}
.th{position:absolute;top:123.4px;font-size:7.05px;color:#444}
.row{position:absolute;left:638px;width:205.6px;height:19.5px;background:#f5f8fd;border-left:2px solid #b1caf4;font-size:6.19px;color:#333;white-space:nowrap}
.row.sel{background:#ecf2fd;color:#2f7be6}
.row b{position:absolute;left:22px;top:8px;font-weight:normal}
.row u{position:absolute;left:73.8px;top:7.9px;text-decoration:none;font-size:6.4px;line-height:6.4px;transform:scaleX(.84);transform-origin:0 0}
.row s{position:absolute;left:127.6px;top:7.9px;text-decoration:none;font-size:6.4px;line-height:6.4px;transform:scaleX(.84);transform-origin:0 0}
.row em{position:absolute;left:116.6px;top:9px;width:3.8px;height:2.2px;background:#2fb84a;clip-path:polygon(0 0,100% 0,50% 100%)}
.row svg{position:absolute;left:6px;top:4px}
</style>
<div class="tb j" style="left:659.2px;width:29.42px;color:#2f7be6;font-weight:bold">分区流量</div>
<div class="tb j" style="left:727.4px;width:29.42px">分区水量</div>
<div class="tb j" style="left:792.9px;width:36.6px">产销差分析</div>
<div class="abs" style="left:705px;top:68.4px;width:.9px;height:13.4px;background:#b5cdf2"></div>
<div class="abs" style="left:773.5px;top:68.4px;width:.9px;height:13.4px;background:#d0dcec"></div>
<!-- buttons -->
<div class="abs" style="left:816px;top:95.6px;width:11.4px;height:11.6px;border:.8px solid #8ab8f5;border-radius:1px;background:#fff"></div>
<div class="abs" style="left:832.4px;top:95.6px;width:11.4px;height:11.6px;border:.8px solid #8ab8f5;border-radius:1px;background:#fff"></div>
<svg class="abs" style="left:818px;top:97.6px" width="8" height="8" viewBox="0 0 8 8"><path d="M1.4 2.6H5Q6.6 2.6 6.6 4.2T5 5.9H1.6" fill="none" stroke="#2f7be6" stroke-width=".9"/><path d="M2.8 .9L1 2.6L2.8 4.3" fill="none" stroke="#2f7be6" stroke-width=".9"/></svg>
<svg class="abs" style="left:834.2px;top:97.2px" width="8" height="8" viewBox="0 0 8 8"><path d="M4 .4L7.6 3.9H6.5V7.4H4.7V5H3.3V7.4H1.5V3.9H.4Z" fill="#2f7be6"/></svg>
<!-- table header -->
<div class="abs" style="left:638px;top:114px;width:205.6px;height:25.8px;background:#eef3fd"></div>
<div class="th j" style="left:651px;width:28.28px">分区名称</div>
<div class="th j" style="left:711.4px;width:13.9px">流量</div>
<div class="th j" style="left:763.9px;width:28.5px">同比差值</div>
<!-- rows -->
<div class="abs" style="left:628.6px;top:140px;width:223.4px;height:182.3px;overflow:hidden">
<div style="position:absolute;left:-628.6px;top:-140px">
<div class="row sel" style="top:144px"><svg width="10.4" height="11" viewBox="0 0 10.4 11"><g fill="#1b1f5e"><path d="M4.5 4.6L6.9 9L9.3 4.6Z"/><circle cx="6.9" cy="3.5" r="3.1"/><path d="M.9 5L3.9 3.4L4.6 7.8H.9Z"/><path d="M.2 10.6L1 7.4H9.6L10.2 10.6Z"/></g><circle cx="6.9" cy="3.5" r="2.2" fill="#f7f9fd"/><circle cx="6.9" cy="3.5" r=".9" fill="#1b1f5e"/><g fill="#f2f6fd"><rect x="3.3" y="8.4" width=".7" height="2.2"/><rect x="6.6" y="8.8" width=".7" height="1.8"/><rect x="1" y="7.9" width="2.6" height=".5"/></g></svg><b class="j" style="width:31.1px">公司总供水</b><u>3425</u><em></em><s>314</s></div>
<div class="row" style="top:167.4px"><svg width="10.4" height="11" viewBox="0 0 10.4 11"><g fill="#1b1f5e"><path d="M4.5 4.6L6.9 9L9.3 4.6Z"/><circle cx="6.9" cy="3.5" r="3.1"/><path d="M.9 5L3.9 3.4L4.6 7.8H.9Z"/><path d="M.2 10.6L1 7.4H9.6L10.2 10.6Z"/></g><circle cx="6.9" cy="3.5" r="2.2" fill="#f7f9fd"/><circle cx="6.9" cy="3.5" r=".9" fill="#1b1f5e"/><g fill="#f2f6fd"><rect x="3.3" y="8.4" width=".7" height="2.2"/><rect x="6.6" y="8.8" width=".7" height="1.8"/><rect x="1" y="7.9" width="2.6" height=".5"/></g></svg><b class="j" style="width:18.6px">主城区</b><u>1775</u><em></em><s>311</s></div>
<div class="row" style="top:190.8px"><svg width="10.4" height="11" viewBox="0 0 10.4 11"><g fill="#1b1f5e"><path d="M4.5 4.6L6.9 9L9.3 4.6Z"/><circle cx="6.9" cy="3.5" r="3.1"/><path d="M.9 5L3.9 3.4L4.6 7.8H.9Z"/><path d="M.2 10.6L1 7.4H9.6L10.2 10.6Z"/></g><circle cx="6.9" cy="3.5" r="2.2" fill="#f7f9fd"/><circle cx="6.9" cy="3.5" r=".9" fill="#1b1f5e"/><g fill="#f2f6fd"><rect x="3.3" y="8.4" width=".7" height="2.2"/><rect x="6.6" y="8.8" width=".7" height="1.8"/><rect x="1" y="7.9" width="2.6" height=".5"/></g></svg><b class="j" style="width:24.9px">大桥东路</b><u>123</u><em></em><s>-1</s></div>
<div class="row" style="top:214.2px"><svg width="10.4" height="11" viewBox="0 0 10.4 11"><g fill="#1b1f5e"><path d="M4.5 4.6L6.9 9L9.3 4.6Z"/><circle cx="6.9" cy="3.5" r="3.1"/><path d="M.9 5L3.9 3.4L4.6 7.8H.9Z"/><path d="M.2 10.6L1 7.4H9.6L10.2 10.6Z"/></g><circle cx="6.9" cy="3.5" r="2.2" fill="#f7f9fd"/><circle cx="6.9" cy="3.5" r=".9" fill="#1b1f5e"/><g fill="#f2f6fd"><rect x="3.3" y="8.4" width=".7" height="2.2"/><rect x="6.6" y="8.8" width=".7" height="1.8"/><rect x="1" y="7.9" width="2.6" height=".5"/></g></svg><b class="j" style="width:12.4px">鲜珍</b><u>81</u><em></em><s>76</s></div>
<div class="row" style="top:237.7px"><svg width="10.4" height="11" viewBox="0 0 10.4 11"><g fill="#1b1f5e"><path d="M4.5 4.6L6.9 9L9.3 4.6Z"/><circle cx="6.9" cy="3.5" r="3.1"/><path d="M.9 5L3.9 3.4L4.6 7.8H.9Z"/><path d="M.2 10.6L1 7.4H9.6L10.2 10.6Z"/></g><circle cx="6.9" cy="3.5" r="2.2" fill="#f7f9fd"/><circle cx="6.9" cy="3.5" r=".9" fill="#1b1f5e"/><g fill="#f2f6fd"><rect x="3.3" y="8.4" width=".7" height="2.2"/><rect x="6.6" y="8.8" width=".7" height="1.8"/><rect x="1" y="7.9" width="2.6" height=".5"/></g></svg><b class="j" style="width:18.6px">何家乡</b><u>24</u><em></em><s>-5</s></div>
<div class="row" style="top:261.2px"><svg width="10.4" height="11" viewBox="0 0 10.4 11"><g fill="#1b1f5e"><path d="M4.5 4.6L6.9 9L9.3 4.6Z"/><circle cx="6.9" cy="3.5" r="3.1"/><path d="M.9 5L3.9 3.4L4.6 7.8H.9Z"/><path d="M.2 10.6L1 7.4H9.6L10.2 10.6Z"/></g><circle cx="6.9" cy="3.5" r="2.2" fill="#f7f9fd"/><circle cx="6.9" cy="3.5" r=".9" fill="#1b1f5e"/><g fill="#f2f6fd"><rect x="3.3" y="8.4" width=".7" height="2.2"/><rect x="6.6" y="8.8" width=".7" height="1.8"/><rect x="1" y="7.9" width="2.6" height=".5"/></g></svg><b class="j" style="width:31.1px">绿色产业园</b><u>166</u><em></em><s>16</s></div>
<div class="row" style="top:284.7px"><svg width="10.4" height="11" viewBox="0 0 10.4 11"><g fill="#1b1f5e"><path d="M4.5 4.6L6.9 9L9.3 4.6Z"/><circle cx="6.9" cy="3.5" r="3.1"/><path d="M.9 5L3.9 3.4L4.6 7.8H.9Z"/><path d="M.2 10.6L1 7.4H9.6L10.2 10.6Z"/></g><circle cx="6.9" cy="3.5" r="2.2" fill="#f7f9fd"/><circle cx="6.9" cy="3.5" r=".9" fill="#1b1f5e"/><g fill="#f2f6fd"><rect x="3.3" y="8.4" width=".7" height="2.2"/><rect x="6.6" y="8.8" width=".7" height="1.8"/><rect x="1" y="7.9" width="2.6" height=".5"/></g></svg><b class="j" style="width:31.1px">新都产业园</b><u>785</u><em></em><s>-15</s></div>
<div class="row" style="top:308.2px"><svg width="10.4" height="11" viewBox="0 0 10.4 11"><g fill="#1b1f5e"><path d="M4.5 4.6L6.9 9L9.3 4.6Z"/><circle cx="6.9" cy="3.5" r="3.1"/><path d="M.9 5L3.9 3.4L4.6 7.8H.9Z"/><path d="M.2 10.6L1 7.4H9.6L10.2 10.6Z"/></g><circle cx="6.9" cy="3.5" r="2.2" fill="#f7f9fd"/><circle cx="6.9" cy="3.5" r=".9" fill="#1b1f5e"/><g fill="#f2f6fd"><rect x="3.3" y="8.4" width=".7" height="2.2"/><rect x="6.6" y="8.8" width=".7" height="1.8"/><rect x="1" y="7.9" width="2.6" height=".5"/></g></svg><b class="j" style="width:24.9px">曹汇镇港</b><u>406</u><em></em><s>-13</s></div>
</div></div>
<div class="abs" style="left:833px;top:151.8px;width:2.6px;height:2.6px;border-right:.6px solid #6fa6f2;border-top:.6px solid #6fa6f2;transform:rotate(45deg)"></div>
<!-- info box -->
<div class="abs" style="left:638px;top:330px;width:205.6px;height:123.4px;background:#f5f9fe"></div>
<div class="abs j" style="left:726px;top:336.8px;font-size:8.19px;font-weight:bold;color:#222;width:32.84px">分区信息</div>
<svg class="abs" style="left:716px;top:403px" width="50" height="28" viewBox="0 0 50 28">
  <g fill="#e4f0fd"><rect x="9" y="4.5" width="36" height="2.2" rx="1.1"/><rect x="3" y="10" width="30" height="2.2" rx="1.1"/><rect x="36" y="10" width="9" height="2.2" rx="1.1"/><rect x="5" y="15.5" width="14" height="2.2" rx="1.1"/><rect x="40" y="15.5" width="6" height="2.2" rx="1.1"/><rect x="2" y="20" width="8" height="2" rx="1"/></g>
  <path d="M17.2 9.2L16 11.6L14.6 22.4H34.6L33.2 11.6L32 9.2Z" fill="#eef6ff" stroke="#7db8f2" stroke-width=".9" stroke-linejoin="round"/>
  <path d="M15 15.6H20.6Q21 19.4 24.6 19.4T28.6 15.6H34.2L34.8 22.4H14.4Z" fill="#fff" stroke="#7db8f2" stroke-width=".9" stroke-linejoin="round"/>
  <path d="M20.6 15.6Q21 19.4 24.6 19.4T28.6 15.6Z" fill="#7db8f2"/>
  <path d="M24.6 2.4V5.2M19.6 3.4L21 5.8M29.8 3.4L28.2 5.8" stroke="#7db8f2" stroke-width=".8" stroke-linecap="round"/>
</svg>
<div class="abs j" style="left:718.7px;top:433px;font-size:6.18px;color:#9aa0a8;width:49.6px">当前分区暂无属性</div>
<!-- IME bar -->
<div class="abs" style="left:809.6px;top:423.6px;width:52px;height:13.2px;border-radius:3px;background:#2b2b2b"></div>
<svg class="abs" style="left:811px;top:424px" width="48" height="13" viewBox="0 0 48 13">
  <g fill="none" stroke="#1f9fe6" stroke-width="1.1"><rect x="1.4" y="4" width="9.6" height="4.6"/><path d="M6.2 .6V12.4"/></g>
  <circle cx="15.8" cy="4.4" r=".9" fill="none" stroke="#ddd" stroke-width=".5"/><path d="M19.2 7.2Q20.2 8.4 19 9.6" fill="none" stroke="#ddd" stroke-width=".9"/>
  <g stroke="#e8e8e8" stroke-width=".9" fill="none"><path d="M24.4 5.2H32M23.6 7.8H32.6M28.2 2.2V11.2M25.4 2.8L26.4 4.4M31 2.8L30 4.4"/></g>
  <path d="M34.6 3.8L37.8 2.2Q39.6 3.8 41.4 2.2L44.6 3.8L43.6 6.2L42.4 5.8V11H36.8V5.8L35.6 6.2Z" fill="#eee"/>
</svg>

</body>
</html>
